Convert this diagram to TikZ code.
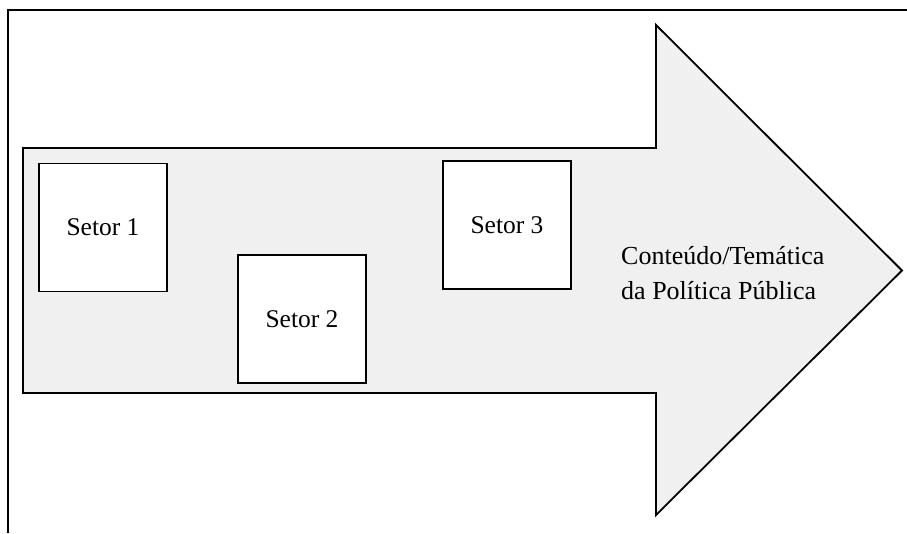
\documentclass[tikz,border=0pt]{standalone}
\usepackage{fontspec}
\setmainfont{Liberation Serif}
\definecolor{arrowfill}{HTML}{F0F0F0}
\tikzset{
  frameline/.style={line width=2.5pt, black},
  arrowshape/.style={draw=black, line width=1.8pt, fill=arrowfill, line join=miter},
  sectorbox/.style={draw=black, line width=1.8pt, fill=white, minimum width=128pt, minimum height=128pt, inner sep=0pt, font=\fontsize{25.5}{30}\selectfont},
  labeltext/.style={align=left, anchor=west, inner sep=0pt, font=\fontsize{26}{35}\selectfont}
}
\begin{document}
\begin{tikzpicture}[x=1pt,y=-1pt]
\useasboundingbox (0,0) rectangle (907,533);
\fill[white] (0,0) rectangle (907,533);
% frame
\draw[frameline] (8,533) -- (8,10) -- (907,10);
% big arrow
\draw[arrowshape] (23,148) -- (656,148) -- (656,25) -- (902,270.5) -- (656,515) -- (656,393) -- (23,393) -- cycle;
% sectors
\node[sectorbox] (s1) at (103,227.5) {Setor 1};
\node[sectorbox] (s2) at (302,319) {Setor 2};
\node[sectorbox] (s3) at (507,225) {Setor 3};
% label
\node[labeltext] (lbl) at (621,273) {Conteúdo/Temática\\da Política Pública};
\end{tikzpicture}
\end{document}
